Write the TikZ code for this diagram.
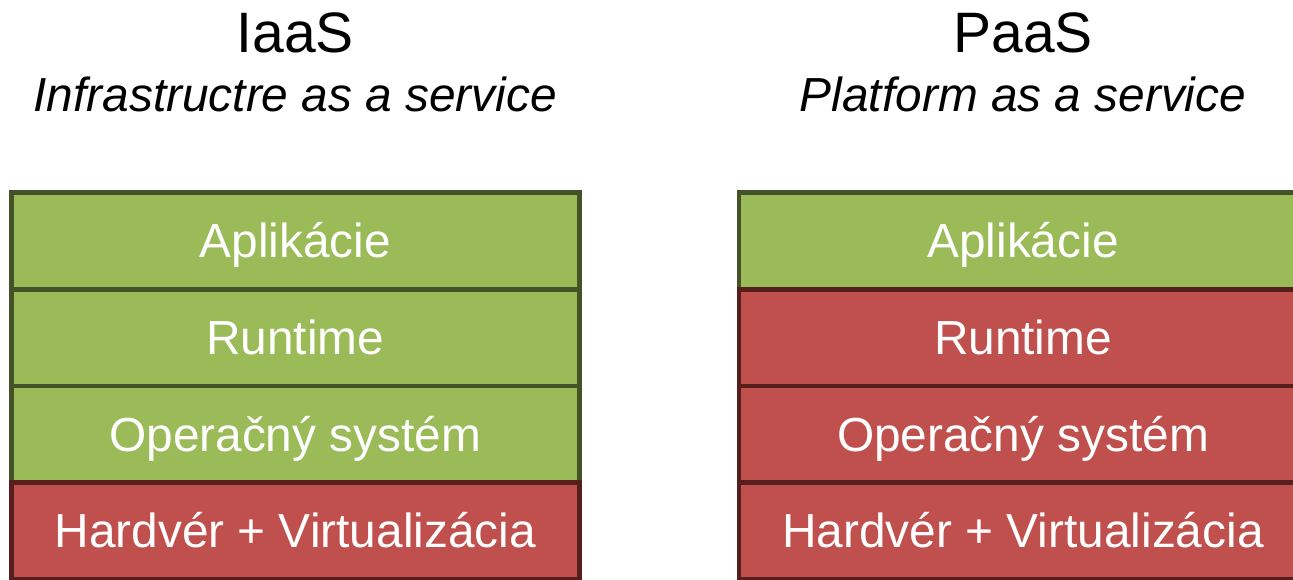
\documentclass[tikz,border=0pt]{standalone}
\usepackage{fontspec}
\setmainfont{Liberation Sans}
\usetikzlibrary{matrix,positioning}

\definecolor{layergreen}{HTML}{9BBB59}
\definecolor{layergreenline}{HTML}{435227}
\definecolor{layerred}{HTML}{C0504D}
\definecolor{layerredline}{HTML}{561F1E}

\begin{document}
\begin{tikzpicture}[x=1pt,y=-1pt,
  layer/.style={draw, line width=4.7pt, minimum width=568pt, minimum height=96.7pt,
                inner sep=0pt, outer sep=0pt, text=white,
                font=\fontsize{47.8}{57}\selectfont, text height=34pt, text depth=0pt},
  ok/.style={fill=layergreen, draw=layergreenline},
  ko/.style={fill=layerred, draw=layerredline},
  subtitle/.style={anchor=base, font=\itshape\fontsize{47.8}{57}\selectfont},
  title/.style={anchor=base, font=\fontsize{57}{68}\selectfont}]
\useasboundingbox (0,0) rectangle (1293,579);
\clip (0,0) rectangle (1293,579);

\matrix(L) [matrix of nodes,%
            row sep = -4.7pt,%
            nodes   = {layer}] at (295.2,385.9)
{
 |[ok]| Aplikácie \\
 |[ok]| Runtime \\
 |[ok]| Operačný systém \\
 |[ko]| Hardvér + Virtualizácia \\
};

\matrix(R) [matrix of nodes,%
            row sep = -4.7pt,%
            nodes   = {layer}] at (1023,385.9)
{
 |[ok]| Aplikácie \\
 |[ko]| Runtime \\
 |[ko]| Operačný systém \\
 |[ko]| Hardvér + Virtualizácia \\
};

\node (isub) [subtitle] at ([yshift=81.5pt]L-1-1.north) {Infrastructre as a service};
\node (itit) [title] at ([yshift=59pt]isub.base) {IaaS};
\node (psub) [subtitle] at (isub.base-|R-1-1.north) {Platform as a service};
\node (ptit) [title] at (itit.base-|R-1-1.north) {PaaS};
\end{tikzpicture}
\end{document}
